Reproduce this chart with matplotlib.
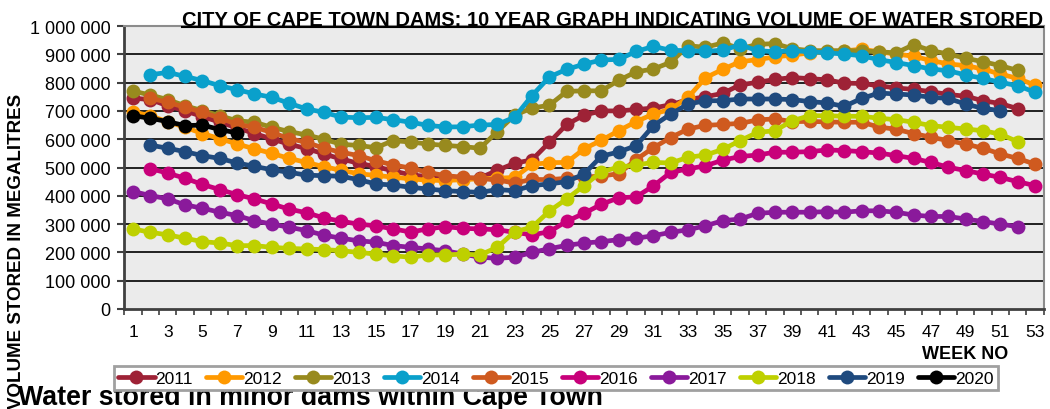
import numpy as np
import matplotlib
matplotlib.use('Agg')
import matplotlib.pyplot as plt
from matplotlib.ticker import FuncFormatter, FixedLocator
from matplotlib.lines import Line2D

plt.rcParams['font.family'] = ['Liberation Sans', 'DejaVu Sans']

# ---------------- data (thousand megalitres) ----------------
weeks = list(range(1, 54))
week_labels = [str(w) for w in range(1, 54, 2)]
years = ['2011', '2012', '2013', '2014', '2015', '2016', '2017', '2018', '2019', '2020']
start_weeks = [1, 1, 1, 2, 2, 2, 1, 1, 2, 1]

v2011 = [745, 740, 718, 700, 680, 660, 640, 620, 601, 582, 567, 548, 530, 515, 503, 488, 474, 468, 463, 462,
         463, 490, 515, 527, 589, 652, 685, 700, 700, 705, 710, 722, 740, 750, 762, 792, 801, 811, 818, 814,
         810, 798, 797, 789, 781, 776, 768, 758, 752, 736, 726, 708]
v2012 = [697, 682, 662, 642, 620, 602, 583, 566, 550, 532, 518, 503, 490, 478, 472, 466, 460, 455, 454, 457,
         460, 462, 465, 511, 517, 518, 566, 596, 630, 662, 689, 706, 748, 817, 847, 874, 881, 891, 897, 905,
         907, 912, 918, 909, 901, 893, 878, 866, 860, 848, 830, 815, 791]
v2013 = [770, 756, 740, 718, 701, 683, 665, 660, 642, 627, 615, 600, 582, 578, 570, 595, 590, 583, 578, 574,
         568, 627, 685, 710, 720, 769, 771, 771, 808, 838, 848, 872, 930, 925, 940, 920, 935, 938, 920, 913,
         913, 913, 912, 909, 905, 934, 913, 901, 886, 874, 860, 843]
v2014 = [828, 836, 822, 807, 789, 775, 760, 748, 727, 707, 695, 678, 676, 677, 669, 660, 649, 643, 644,
         650, 652, 678, 754, 820, 847, 865, 880, 882, 910, 928, 914, 913, 910, 915, 933, 913, 909, 913, 909,
         905, 901, 895, 881, 871, 860, 848, 842, 827, 815, 801, 789, 766]
v2015 = [745, 730, 713, 695, 675, 652, 642, 624, 602, 589, 568, 554, 542, 524, 509, 498, 483, 471, 466,
         461, 456, 445, 458, 457, 462, 466, 470, 478, 528, 570, 606, 636, 649, 652, 656, 668, 672, 662, 663,
         661, 660, 660, 643, 635, 620, 607, 595, 583, 568, 548, 532, 512]
v2016 = [496, 480, 462, 440, 422, 404, 389, 371, 353, 340, 322, 310, 300, 294, 283, 272, 283, 291, 285,
         283, 280, 271, 262, 273, 310, 338, 370, 393, 396, 435, 483, 495, 506, 526, 539, 544, 554, 554, 556,
         562, 560, 556, 551, 542, 532, 518, 501, 489, 477, 465, 450, 436]
v2017 = [415, 401, 389, 368, 356, 342, 330, 312, 300, 289, 277, 261, 250, 241, 236, 224, 218, 212, 206, 194,
         183, 179, 183, 200, 213, 225, 233, 238, 245, 250, 259, 271, 280, 294, 312, 318, 338, 342, 342, 342,
         344, 342, 347, 347, 342, 332, 327, 327, 318, 309, 300, 291]
v2018 = [283, 271, 262, 250, 238, 233, 224, 224, 218, 214, 212, 210, 206, 200, 194, 188, 183, 191, 191, 194,
         191, 218, 273, 289, 346, 389, 436, 485, 501, 509, 518, 516, 536, 544, 564, 595, 624, 630, 665, 683,
         683, 681, 681, 674, 669, 660, 648, 642, 636, 630, 618, 591]
v2019 = [579, 568, 556, 542, 532, 516, 504, 492, 483, 473, 471, 469, 457, 442, 438, 430, 424, 418, 415,
         412, 422, 418, 436, 442, 450, 477, 540, 555, 577, 648, 689, 724, 736, 736, 742, 742, 742, 740, 733,
         728, 716, 744, 763, 760, 756, 748, 744, 724, 709, 701]
v2020 = [683, 674, 662, 648, 650, 634, 622]

series = [v2011, v2012, v2013, v2014, v2015, v2016, v2017, v2018, v2019, v2020]
colors = ['#9E2236', '#FF9900', '#988A1E', '#0AA0CB', '#CF5A1F', '#C8007A', '#8A1A9B', '#BED000',
          '#1F4A7E', '#000000']
UNIT = 1000

# ---------------- figure ----------------
W, H = 1050, 410
fig = plt.figure(figsize=(W / 100, H / 100), dpi=100)
fig.patch.set_facecolor('white')
ax = fig.add_axes([124.4 / W, 1 - 310 / H, (1043.7 - 124.4) / W, (310 - 27) / H])
ax.set_facecolor('#EBEBEB')

for name, vals, sw, col in zip(years, series, start_weeks, colors):
    x = np.arange(sw, sw + len(vals))
    ax.plot(x, np.array(vals) * UNIT, color=col, lw=3.4, marker='o', ms=10,
            markeredgewidth=0, label=name, solid_capstyle='round')

ax.set_xlim(0.5, 53.5)
ax.set_ylim(0, 1_000_000)

ax.yaxis.set_major_locator(FixedLocator(np.arange(0, 1_000_001, 100_000)))
ax.yaxis.set_major_formatter(FuncFormatter(lambda v, p: f"{int(v):,}".replace(',', ' ')))
ax.xaxis.set_major_locator(FixedLocator(list(range(1, 54, 2))))
ax.set_xticklabels(week_labels)
ax.xaxis.set_minor_locator(FixedLocator(np.arange(0.5, 54, 1)))

ax.tick_params(axis='y', which='major', length=5, width=1.5, color='#404040', pad=5,
               labelsize=13, direction='out')
ax.tick_params(axis='x', which='major', length=0, pad=11, labelsize=12.5)
ax.tick_params(axis='x', which='minor', length=4, width=1.2, color='#404040', direction='out')

for yv in range(100_000, 1_000_000, 100_000):
    ax.axhline(yv, color='#111111', lw=1.3, zorder=0.5)

for s in ['left', 'bottom']:
    ax.spines[s].set_color('#404040')
    ax.spines[s].set_linewidth(2)
for s in ['top', 'right']:
    ax.spines[s].set_color('#8C8C8C')
    ax.spines[s].set_linewidth(1.5)

# title with underline
title = fig.text(1043 / W, 1 - 26 / H, 'CITY OF CAPE TOWN DAMS: 10 YEAR GRAPH INDICATING VOLUME OF WATER STORED',
                 ha='right', va='baseline', fontsize=14.5, fontweight='bold', color='black')
fig.canvas.draw()
bb = title.get_window_extent()
x0 = bb.x0 / W
x1 = bb.x1 / W
fig.add_artist(Line2D([x0, x1], [1 - 27.5 / H, 1 - 27.5 / H], transform=fig.transFigure,
                      color='black', lw=1.5))

fig.text(16.5 / W, 1 - 251 / H, 'VOLUME STORED IN MEGALITRES', rotation=90, ha='center', va='center',
         fontsize=13.5, fontweight='bold')
fig.text(1008 / W, 1 - 355 / H, 'WEEK NO', ha='right', va='center', fontsize=13, fontweight='bold')

leg = fig.legend(loc='center', bbox_to_anchor=(556 / W, 1 - 379 / H), ncol=10, fontsize=12.5,
                 handlelength=2.1, handletextpad=0.05, columnspacing=0.75, borderpad=0.25,
                 frameon=True, fancybox=False, edgecolor='#A0A0A0', framealpha=1)
leg.get_frame().set_linewidth(2)

fig.text(18 / W, 5 / H, 'Water stored in minor dams within Cape Town', ha='left', va='baseline',
         fontsize=19.3, fontweight='bold')

fig.savefig('out.png', dpi=100)
